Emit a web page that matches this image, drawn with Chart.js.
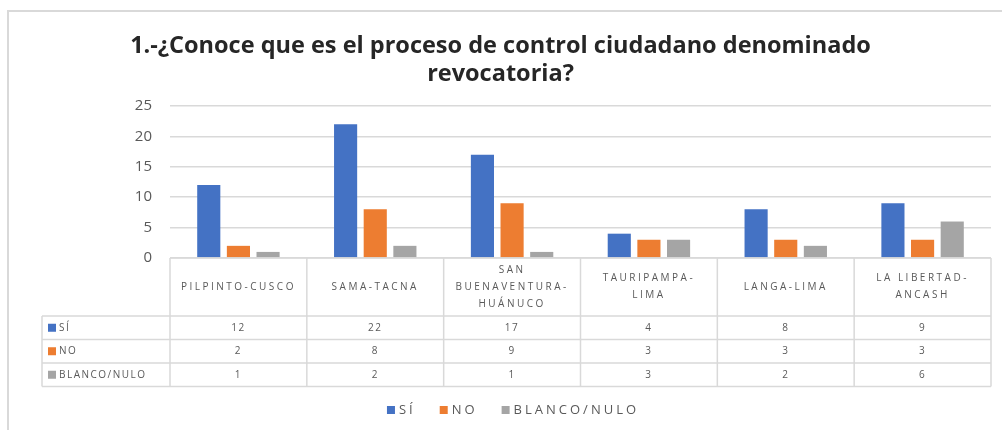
<!DOCTYPE html>
<html>
<head>
<meta charset="utf-8">
<script src="https://cdn.jsdelivr.net/npm/chart.js@4"></script>
<style>
html, body { margin: 0; padding: 0; background: #fff; }
#wrap { position: relative; width: 1002px; height: 433px; }
</style>
</head>
<body>
<div id="wrap"><canvas id="chart"></canvas></div>
<script>
// data
const categories = [
    ['PILPINTO-CUSCO'],
    ['SAMA-TACNA'],
    ['SAN', 'BUENAVENTURA-', 'HUÁNUCO'],
    ['TAURIPAMPA-', 'LIMA'],
    ['LANGA-LIMA'],
    ['LA LIBERTAD-', 'ANCASH']
];
const seriesNames = ['SÍ', 'NO', 'BLANCO/NULO'];
const si = [12, 22, 17, 4, 8, 9];
const no = [2, 8, 9, 3, 3, 3];
const blanco = [1, 2, 1, 3, 2, 6];
const yMax = 25;
const yStep = 5;
const titleLines = ['1.-¿Conoce que es el proceso de control ciudadano denominado', 'revocatoria?'];

const colors = ['#4472C4', '#ED7D31', '#A5A5A5'];
const textGray = '#595959';
const lineGray = '#d9d9d9';

// outer frame like the Excel chart border
const frame = {
    id: 'frame',
    beforeDraw(chart) {
        const ctx = chart.ctx;
        ctx.save();
        ctx.fillStyle = '#fff';
        ctx.fillRect(0, 0, chart.width, chart.height);
        ctx.strokeStyle = lineGray;
        ctx.lineWidth = 2;
        ctx.beginPath();
        ctx.moveTo(8, chart.height - 3);
        ctx.lineTo(8, 11);
        ctx.lineTo(chart.width, 11);
        ctx.stroke();
        ctx.restore();
    }
};

// data table under the plot + legend (Excel spaces the letters out)
const dataTable = {
    id: 'dataTable',
    afterDraw(chart) {
        const ctx = chart.ctx;
        const area = chart.chartArea;
        const xs = chart.scales.x;
        const n = categories.length;
        const colW = (area.right - area.left) / n;
        const top = area.bottom;
        const headH = 58;
        const rowH = 23.5;
        const labelLeft = 42;
        const rows = chart.data.datasets.map(d => d.data);
        const bottom = top + headH + rowH * rows.length;

        ctx.save();
        ctx.strokeStyle = lineGray;
        ctx.lineWidth = 1.5;
        ctx.beginPath();
        ctx.moveTo(area.left, top);
        ctx.lineTo(area.right, top);
        for (let r = 0; r <= rows.length; r++) {
            const y = top + headH + r * rowH;
            ctx.moveTo(labelLeft, y);
            ctx.lineTo(area.right, y);
        }
        for (let i = 0; i <= n; i++) {
            const x = xs.getPixelForValue(0) - colW / 2 + i * colW;
            ctx.moveTo(x, top);
            ctx.lineTo(x, bottom);
        }
        ctx.moveTo(labelLeft, top + headH);
        ctx.lineTo(labelLeft, bottom);
        ctx.stroke();

        ctx.fillStyle = textGray;
        ctx.textAlign = 'center';
        ctx.textBaseline = 'middle';
        ctx.font = '10px "Open Sans"';
        ctx.letterSpacing = '2.5px';
        categories.forEach((lines, i) => {
            const cx = xs.getPixelForValue(i);
            const cy = top + headH / 2;
            lines.forEach((t, k) => {
                ctx.fillText(t, cx, cy + (k - (lines.length - 1) / 2) * 17);
            });
        });

        ctx.letterSpacing = '1.5px';
        rows.forEach((vals, r) => {
            const cy = top + headH + r * rowH + rowH / 2;
            ctx.textAlign = 'center';
            ctx.fillStyle = textGray;
            vals.forEach((v, i) => {
                ctx.fillText(String(v), xs.getPixelForValue(i), cy);
            });
            ctx.fillStyle = colors[r];
            ctx.fillRect(labelLeft + 6, cy - 4, 8, 8);
            ctx.fillStyle = textGray;
            ctx.textAlign = 'left';
            ctx.fillText(seriesNames[r], labelLeft + 17, cy);
        });

        // legend
        ctx.font = '13px "Open Sans"';
        ctx.letterSpacing = '3px';
        const items = chart.data.datasets.map(d => ({ text: d.label, color: d.backgroundColor }));
        const widths = items.map(it => 12 + ctx.measureText(it.text).width);
        const gap = 24;
        const total = widths.reduce((a, b) => a + b, 0) + gap * (items.length - 1);
        let lx = chart.width / 2 + 12 - total / 2;
        const ly = 410;
        items.forEach((it, i) => {
            ctx.fillStyle = it.color;
            ctx.fillRect(lx, ly - 4, 8, 8);
            ctx.fillStyle = textGray;
            ctx.fillText(it.text, lx + 12, ly);
            lx += widths[i] + gap;
        });
        ctx.restore();
    }
};

const ctx = document.getElementById('chart').getContext('2d');
new Chart(ctx, {
    type: 'bar',
    data: {
        labels: categories,
        datasets: [
            { label: seriesNames[0], data: si, backgroundColor: colors[0] },
            { label: seriesNames[1], data: no, backgroundColor: colors[1] },
            { label: seriesNames[2], data: blanco, backgroundColor: colors[2] }
        ]
    },
    options: {
        responsive: true,
        maintainAspectRatio: false,
        animation: false,
        categoryPercentage: 0.65,
        barPercentage: 0.78,
        layout: { padding: { left: 10, right: 11, top: 12, bottom: 47 } },
        plugins: {
            title: {
                display: true,
                text: titleLines,
                color: '#262626',
                font: { family: 'Open Sans', size: 23.5, weight: 'bold', lineHeight: 28 / 23.5 },
                padding: { top: 20, bottom: 18 }
            },
            legend: { display: false },
            tooltip: { enabled: false }
        },
        scales: {
            x: {
                ticks: { display: false },
                grid: { display: false },
                border: { display: false },
                afterFit(scale) { scale.height = 128; }
            },
            y: {
                min: 0,
                max: yMax,
                ticks: {
                    stepSize: yStep,
                    color: textGray,
                    padding: 18,
                    font: { family: 'Open Sans', size: 15 }
                },
                grid: { color: lineGray, lineWidth: 1.5, drawTicks: false },
                border: { display: false },
                afterFit(scale) { scale.width = 160; }
            }
        }
    },
    plugins: [frame, dataTable]
});
</script>
</body>
</html>
